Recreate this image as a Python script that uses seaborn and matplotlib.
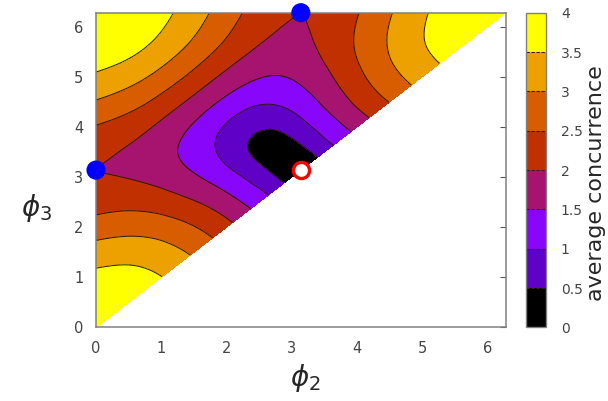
import numpy as np
import matplotlib
matplotlib.use("Agg")
import matplotlib.pyplot as plt
import matplotlib.tri as mtri
from matplotlib.colors import ListedColormap, BoundaryNorm
from matplotlib.ticker import FuncFormatter
import seaborn as sns

# ---------------- data ----------------
# sampling grid of the phases (rad), step pi/6
phi_grid = [k * np.pi / 6 for k in range(13)]

# average concurrence, one row per phi3 grid value, entries for phi2 <= phi3
conc_phi3_00 = [4.000]
conc_phi3_01 = [3.898, 3.864]
conc_phi3_02 = [3.606, 3.633, 3.464]
conc_phi3_03 = [3.162, 3.235, 3.120, 2.828]
conc_phi3_04 = [2.646, 2.732, 2.646, 2.394, 2.000]
conc_phi3_05 = [2.192, 2.236, 2.130, 1.880, 1.506, 1.035]
conc_phi3_06 = [2.000, 1.932, 1.732, 1.414, 1.000, 0.518, 0.000]
conc_phi3_07 = [2.192, 2.000, 1.675, 1.239, 0.732, 0.268, 0.518, 1.035]
conc_phi3_08 = [2.646, 2.394, 2.000, 1.506, 1.000, 0.732, 1.000, 1.506, 2.000]
conc_phi3_09 = [3.162, 2.909, 2.504, 2.000, 1.506, 1.239, 1.414, 1.880, 2.394, 2.828]
conc_phi3_10 = [3.606, 3.386, 3.000, 2.504, 2.000, 1.675, 1.732, 2.130, 2.646, 3.120, 3.464]
conc_phi3_11 = [3.898, 3.732, 3.386, 2.909, 2.394, 2.000, 1.932, 2.236, 2.732, 3.235, 3.633, 3.864]
conc_phi3_12 = [4.000, 3.898, 3.606, 3.162, 2.646, 2.192, 2.000, 2.192, 2.646, 3.162, 3.606, 3.898, 4.000]

# extra readings around the minimum (phases in degrees)
extra_phi2_deg = [105, 135, 165, 75, 105, 135, 165, 195, 75, 105, 135, 165,
                  195, 105, 135, 165, 195, 135, 165, 135, 225]
extra_phi3_deg = [165, 165, 165, 195, 195, 195, 195, 195, 225, 225, 225, 225,
                  225, 255, 255, 255, 255, 285, 285, 135, 225]
extra_conc = [1.450, 1.020, 0.522, 1.473, 1.049, 0.555, 0.063, 0.522, 1.573,
              1.066, 0.586, 0.555, 1.020, 1.483, 1.066, 1.049, 1.450, 1.573,
              1.473, 1.531, 1.531]

levels = [0, 0.5, 1, 1.5, 2, 2.5, 3, 3.5, 4]
band_colors = ["#000000", "#6001c7", "#8806f9", "#a7146f",
               "#c13000", "#d75d00", "#eca100", "#ffff00"]

axis_ticks = [0, 1, 2, 3, 4, 5, 6]

blue_phi2 = [0.0, np.pi]
blue_phi3 = [np.pi, 2 * np.pi]
red_phi2 = [np.pi]
red_phi3 = [np.pi]

# ---------------- build field ----------------
rows = [conc_phi3_00, conc_phi3_01, conc_phi3_02, conc_phi3_03, conc_phi3_04,
        conc_phi3_05, conc_phi3_06, conc_phi3_07, conc_phi3_08, conc_phi3_09,
        conc_phi3_10, conc_phi3_11, conc_phi3_12]
px, py, pz = [], [], []
for j, row in enumerate(rows):
    for i, v in enumerate(row):
        px.append(phi_grid[i])
        py.append(phi_grid[j])
        pz.append(v)
px.extend(np.deg2rad(extra_phi2_deg))
py.extend(np.deg2rad(extra_phi3_deg))
pz.extend(extra_conc)
px, py, pz = np.array(px), np.array(py), np.array(pz)

tri = mtri.Triangulation(px, py)
interp = mtri.CubicTriInterpolator(tri, pz, kind="min_E")
refiner = mtri.UniformTriRefiner(tri)
tri_r, z_r = refiner.refine_field(pz, triinterpolator=interp, subdiv=4)
z_r = np.clip(z_r, 0, 4)

# ---------------- figure ----------------
sns.set_style("white")
plt.rcParams["font.family"] = ["DejaVu Sans"]
plt.rcParams["mathtext.fontset"] = "dejavusans"

fig = plt.figure(figsize=(6.08, 4.01), dpi=100)
ax = fig.add_axes([0.1579, 0.1833, 0.6738, 0.785])
cax = fig.add_axes([0.8651, 0.1833, 0.0322, 0.785])

cmap = ListedColormap(band_colors)
norm = BoundaryNorm(levels, cmap.N)

cf = ax.tricontourf(tri_r, z_r, levels=levels, cmap=cmap, norm=norm)
ax.tricontour(tri_r, z_r, levels=levels[1:-1], colors="#2a1608",
              linewidths=0.7)

sns.scatterplot(x=blue_phi2, y=blue_phi3, color="#0000ff", s=190,
                edgecolor="none", ax=ax, clip_on=False, zorder=6, legend=False)
sns.scatterplot(x=red_phi2, y=red_phi3, color="white", edgecolor="#ff0000",
                s=135, linewidth=2.4, ax=ax, clip_on=False, zorder=6,
                legend=False)

ax.set_xlim(0, 2 * np.pi)
ax.set_ylim(0, 2 * np.pi)
ax.set_xticks(axis_ticks)
ax.set_yticks(axis_ticks)
ax.tick_params(direction="in", length=4, width=0.8, color="#555555",
               top=True, right=True, labelsize=10.5, labelcolor="#444444")
ax.tick_params(axis="x", pad=10)
ax.tick_params(axis="y", pad=9)
for sp in ax.spines.values():
    sp.set_color("#808080")
    sp.set_linewidth(1.1)

ax.set_xlabel(r"$\phi_2$", fontsize=20)
ax.xaxis.label.set_va("center")
ax.xaxis.set_label_coords(0.51, -0.16)
ax.set_ylabel(r"$\phi_3$", fontsize=20, rotation=0)
ax.yaxis.label.set_va("center")
ax.yaxis.label.set_ha("center")
ax.yaxis.set_label_coords(-0.145, 0.38)

cbar = fig.colorbar(cf, cax=cax, ticks=levels)
cbar.outline.set_edgecolor("#808080")
cbar.outline.set_linewidth(1.0)
for lev in levels[1:-1]:
    cax.axhline(lev, color="#3a2010", lw=0.8, ls=(0, (3, 1.5)))
cax.yaxis.set_major_formatter(FuncFormatter(lambda v, p: f"{v:g}"))
cax.tick_params(length=0, pad=11, labelsize=10, labelcolor="#444444")
cbar.set_label("average concurrence", fontsize=16)
cax.yaxis.label.set_va("center")
cax.yaxis.label.set_ha("center")
cax.yaxis.set_label_coords(3.6, 0.46)

fig.savefig("out.png", dpi=100)
